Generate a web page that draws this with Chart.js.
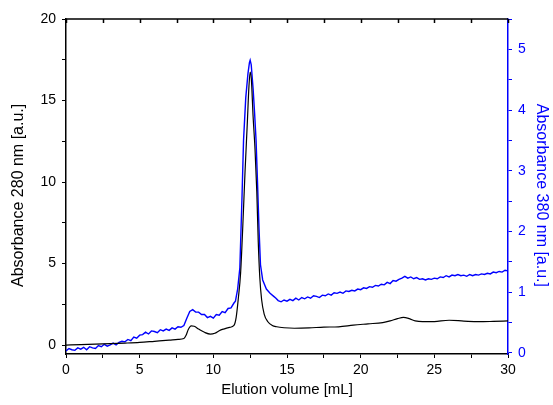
<!DOCTYPE html>
<html lang="en">
<head>
<meta charset="UTF-8">
<title>Elution profile</title>
<script src="https://cdn.jsdelivr.net/npm/chart.js"></script>
<style>
    body { margin: 0; padding: 0; background: #fff; }
    #wrap { width: 553px; height: 405px; }
</style>
</head>
<body>
<div id="wrap"><canvas id="chart" width="553" height="405"></canvas></div>
<script>
// Absorbance at 280 nm (left axis)
const blackX = [0, 1, 2, 3, 4, 5, 6, 7, 7.6, 8.0, 8.15, 8.3, 8.5, 8.7, 9.0, 9.4, 9.8, 10.1,
    10.4, 10.7, 11.1, 11.4, 11.55, 11.7, 11.85, 12.0, 12.15, 12.3, 12.42, 12.5, 12.58, 12.7,
    12.83, 12.95, 13.05, 13.15, 13.28, 13.45, 13.7, 14.0, 14.3, 14.8, 15.5, 16.5, 17.5, 18.5,
    19.5, 20.5, 21.5, 22.0, 22.5, 22.9, 23.3, 23.7, 24.2, 25.0, 26.0, 27.0, 28.0, 29.0, 30.0];
const blackY = [0.0, 0.02, 0.05, 0.09, 0.12, 0.16, 0.23, 0.3, 0.35, 0.4, 0.6, 0.95, 1.17, 1.15, 0.98, 0.78, 0.67, 0.72,
    0.88, 0.98, 1.08, 1.2, 1.7, 2.9, 4.4, 7.3, 10.6, 13.5, 15.9, 16.75, 16.3, 14.0,
    12.0, 9.4, 6.3, 4.2, 2.76, 1.9, 1.43, 1.2, 1.12, 1.06, 1.03, 1.05, 1.1, 1.12,
    1.22, 1.3, 1.38, 1.48, 1.62, 1.7, 1.62, 1.48, 1.43, 1.44, 1.52, 1.47, 1.43, 1.45, 1.48];

// Absorbance at 380 nm (right axis), noisy trace
const blueX = [
    0, 0.2, 0.4, 0.6, 0.8, 1.0, 1.2, 1.4, 1.6, 1.8,
    2.0, 2.2, 2.4, 2.6, 2.8, 3.0, 3.2, 3.4, 3.6, 3.8,
    4.0, 4.2, 4.4, 4.6, 4.8, 5.0, 5.2, 5.4, 5.6, 5.8,
    6.0, 6.2, 6.4, 6.6, 6.8, 7.0, 7.2, 7.4, 7.6, 7.8,
    8.0, 8.2, 8.4, 8.6, 8.8, 9.0, 9.2, 9.4, 9.6, 9.8,
    10.0, 10.2, 10.4, 10.6, 10.8, 11.0, 11.2, 11.4,
    11.5, 11.65, 11.8, 11.95, 12.05, 12.2, 12.35, 12.45, 12.5, 12.57,
    12.7, 12.8, 12.9, 13.0, 13.1, 13.2, 13.35, 13.6, 13.85, 14.1, 14.25,
    14.4, 14.6, 14.8, 15.0, 15.2, 15.4, 15.6, 15.8, 16.0, 16.2,
    16.4, 16.6, 16.8, 17.0, 17.2, 17.4, 17.6, 17.8, 18.0, 18.2,
    18.4, 18.6, 18.8, 19.0, 19.2, 19.4, 19.6, 19.8, 20.0, 20.2,
    20.4, 20.6, 20.8, 21.0, 21.2, 21.4, 21.6, 21.8, 22.0, 22.2,
    22.4, 22.6, 22.8, 23.0, 23.2, 23.4, 23.6, 23.8, 24.0, 24.2,
    24.4, 24.6, 24.8, 25.0, 25.2, 25.4, 25.6, 25.8, 26.0, 26.2,
    26.4, 26.6, 26.8, 27.0, 27.2, 27.4, 27.6, 27.8, 28.0, 28.2,
    28.4, 28.6, 28.8, 29.0, 29.2, 29.4, 29.6, 29.8, 30.0];
const blueY = [
    0.03, 0.07, 0.05, 0.04, 0.08, 0.06, 0.09, 0.05, 0.10, 0.08,
    0.07, 0.12, 0.10, 0.14, 0.11, 0.13, 0.16, 0.13, 0.17, 0.19,
    0.18, 0.22, 0.20, 0.26, 0.24, 0.29, 0.30, 0.34, 0.31, 0.36,
    0.35, 0.33, 0.38, 0.36, 0.39, 0.37, 0.41, 0.39, 0.43, 0.42,
    0.45, 0.57, 0.68, 0.71, 0.67, 0.67, 0.63, 0.63, 0.58, 0.60,
    0.57, 0.63, 0.62, 0.68, 0.66, 0.73, 0.74, 0.82,
    0.85, 1.05, 1.4, 2.6, 3.5, 4.2, 4.6, 4.78, 4.82, 4.75,
    4.35, 3.95, 3.5, 2.8, 2.05, 1.45, 1.2, 1.05, 0.98, 0.93, 0.9,
    0.86, 0.84, 0.87, 0.85, 0.88, 0.86, 0.90, 0.87, 0.91, 0.89,
    0.92, 0.90, 0.94, 0.93, 0.91, 0.95, 0.94, 0.97, 0.95, 0.99,
    0.98, 1.00, 0.98, 1.02, 1.01, 1.03, 1.02, 1.05, 1.04, 1.07,
    1.06, 1.09, 1.08, 1.11, 1.10, 1.13, 1.12, 1.16, 1.14, 1.19,
    1.18, 1.21, 1.23, 1.26, 1.23, 1.25, 1.22, 1.24, 1.21, 1.22,
    1.20, 1.22, 1.21, 1.23, 1.22, 1.25, 1.24, 1.27, 1.25, 1.28,
    1.27, 1.29, 1.27, 1.28, 1.26, 1.29, 1.27, 1.29, 1.28, 1.30,
    1.29, 1.31, 1.30, 1.33, 1.32, 1.34, 1.33, 1.36, 1.35];

const xTitle = 'Elution volume [mL]';
// padded with spaces so the titles sit a little lower, as in the original
const leftTitle = 'Absorbance 280 nm [a.u.]    ';
const rightTitle = '    Absorbance 380 nm [a.u.]';

const BLUE = '#0000ff';
const FONT = 'Liberation Sans, Arial, sans-serif';

// top frame line with inward ticks, drawn from the x scale
const topFrame = {
    id: 'topFrame',
    afterDraw(chart) {
        const { ctx, chartArea } = chart;
        const xs = chart.scales.x;
        ctx.save();
        ctx.strokeStyle = '#000';
        ctx.lineWidth = 1.5;
        ctx.beginPath();
        ctx.moveTo(chartArea.left, chartArea.top);
        ctx.lineTo(chartArea.right, chartArea.top);
        xs.ticks.forEach(t => {
            const px = Math.round(xs.getPixelForValue(t.value)) + 0.5;
            ctx.moveTo(px, chartArea.top);
            ctx.lineTo(px, chartArea.top + 4);
        });
        ctx.stroke();
        ctx.restore();
    }
};

const isMult = (v, m) => Math.abs(v / m - Math.round(v / m)) < 1e-6;

new Chart(document.getElementById('chart'), {
    type: 'line',
    data: {
        datasets: [{
            label: '280 nm',
            data: blackX.map((x, i) => ({ x: x, y: blackY[i] })),
            borderColor: '#000',
            borderWidth: 1.2,
            pointRadius: 0,
            cubicInterpolationMode: 'monotone',
            yAxisID: 'y'
        }, {
            label: '380 nm',
            data: blueX.map((x, i) => ({ x: x, y: blueY[i] })),
            borderColor: BLUE,
            borderWidth: 1.4,
            pointRadius: 0,
            tension: 0,
            yAxisID: 'y1'
        }]
    },
    options: {
        responsive: false,
        animation: false,
        layout: { padding: { top: 19, left: 0, right: 0, bottom: 0 } },
        plugins: { legend: { display: false }, tooltip: { enabled: false } },
        scales: {
            x: {
                type: 'linear',
                min: 0, max: 30,
                afterFit: s => { s.height = 51; },
                border: { color: '#000', width: 1.5 },
                grid: { drawOnChartArea: false, tickLength: 4, color: '#000', tickWidth: 1 },
                ticks: {
                    stepSize: 2.5, color: '#000', padding: 4, maxRotation: 0, autoSkip: false,
                    font: { family: FONT, size: 14 },
                    callback: v => isMult(v, 5) ? v : ''
                },
                title: { display: true, text: xTitle, color: '#000', font: { family: FONT, size: 15 }, padding: { top: 0, bottom: 6 } }
            },
            y: {
                type: 'linear', position: 'left',
                min: -0.55, max: 20,
                afterFit: s => { s.width = 66; },
                border: { color: '#000', width: 1.5 },
                grid: { drawOnChartArea: false, tickLength: 4, color: '#000', tickWidth: 1 },
                ticks: {
                    stepSize: 2.5, includeBounds: false, color: '#000', padding: 6, autoSkip: false,
                    font: { family: FONT, size: 14 },
                    callback: v => isMult(v, 5) ? v : ''
                },
                title: { display: true, text: leftTitle, color: '#000', font: { family: FONT, size: 16 }, padding: { top: 9, bottom: 0 } }
            },
            y1: {
                type: 'linear', position: 'right',
                min: -0.02, max: 5.5,
                afterFit: s => { s.width = 45; },
                border: { color: BLUE, width: 1.5 },
                grid: { drawOnChartArea: false, tickLength: 4, color: BLUE, tickWidth: 1 },
                ticks: {
                    stepSize: 0.5, includeBounds: false, color: BLUE, padding: 6, autoSkip: false,
                    font: { family: FONT, size: 14 },
                    callback: v => isMult(v, 1) ? Math.round(v) : ''
                },
                title: { display: true, text: rightTitle, color: BLUE, font: { family: FONT, size: 16 }, padding: { top: 2, bottom: 0 } }
            }
        }
    },
    plugins: [topFrame]
});
</script>
</body>
</html>
